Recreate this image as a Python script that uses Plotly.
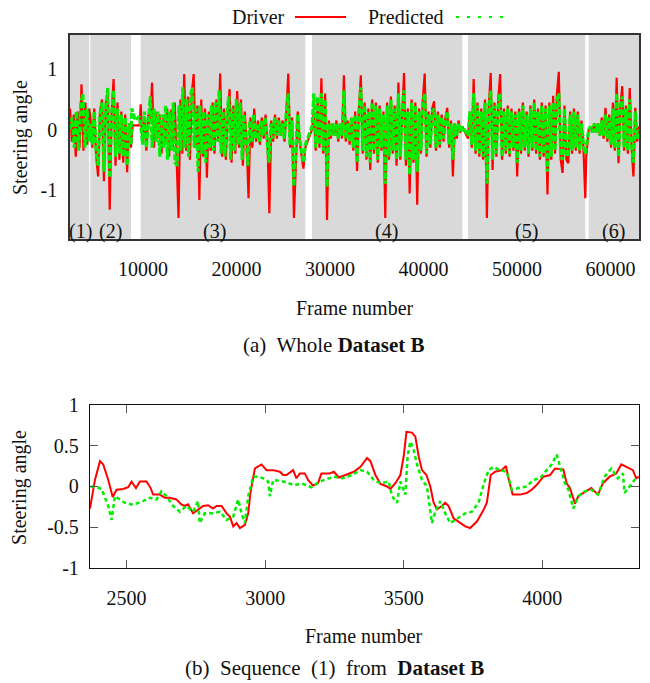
import numpy as np
import plotly.graph_objects as go

FONT = "Liberation Serif"
RED = "#ff0000"
GREEN = "#00ee00"

# ---------------- (a) Whole Dataset B ----------------
region_labels = ["(1)", "(2)", "(3)", "(4)", "(5)", "(6)"]
region_start = [2200, 4380, 9761, 28082, 44767, 57676]
region_end = [4250, 8724, 27366, 44157, 57312, 63060]
region_label_frame = [3270, 6500, 17700, 36100, 51050, 60350]

driver_r1 = [0.35, -0.2, 0.25, -0.45, 0.3, -0.3, 0.75, -0.35, 0.45, -0.25, 0.35]
pred_r1 = [0.0, 0.2, -0.3, 0.3, -0.35, 0.4, 0.6, -0.3, 0.35, -0.2]

driver_r2 = [0.2, -0.3, 0.35, -0.45, -0.78, 0.3, 0.5, -0.86, 0.45, 0.6, -1.33, 0.3,
             0.84, -0.6, 0.45, -0.5, 0.3, -0.55, 0.25, -0.71, 0.1, -0.3]
pred_r2 = [0.1, -0.25, 0.3, -0.4, -0.6, 0.25, 0.45, -0.7, 0.4, 0.69, -0.8, 0.25,
           0.65, -0.45, 0.35, -0.4, 0.25, -0.45, 0.2, -0.6, 0.1, -0.25]

driver_r3 = [0.42, -0.2, 0.2, -0.35, 0.25, 0.1, 0.78, -0.3, 0.3, -0.15, 0.25, -0.4,
             0.2, -0.25, 0.35, -0.45, 0.33, -0.3, 0.45, -0.5, -1.47, 0.5, -0.4, 0.92,
             -0.35, 0.55, -0.5, 0.6, 0.92, -0.3, 0.4, -1.17, 0.5, -0.45, 0.35, -0.8,
             0.3, -0.35, 0.45, -0.4, 0.5, -0.2, 0.93, -0.45, 0.35, -0.5, 0.3, 0.67,
             -0.55, 0.4, -0.4, 0.64, -0.3, 0.5, -0.6, 0.3, -0.2, -1.14, 0.2, -0.3,
             0.35, -0.2, 0.15, -0.25, 0.2, -0.15, 0.25, -0.2, -1.39, 0.15, -0.2, 0.25,
             -0.15, 0.2, -0.1, 0.15, -0.2, 0.3, 0.93, -0.3, 0.2, -1.47, -0.5, 0.3,
             -0.2, -0.4, -0.65, -0.3]
pred_r3 = [0.1, -0.25, 0.3, -0.3, 0.2, 0.55, -0.3, 0.35, -0.2, 0.3, -0.45, 0.25,
           -0.3, 0.4, -0.5, 0.3, -0.35, 0.45, -0.55, -0.6, 0.4, -0.35, 0.7, -0.3,
           0.5, -0.45, 0.55, 0.7, -0.3, 0.35, -0.7, 0.4, -0.4, 0.3, -0.55, 0.25,
           -0.3, 0.4, -0.35, 0.45, -0.2, 0.65, -0.4, 0.3, -0.45, 0.25, 0.55, -0.5,
           0.35, -0.35, 0.5, -0.25, 0.45, -0.5, 0.25, -0.2, -0.6, 0.15, -0.2, 0.25,
           -0.15, 0.1, -0.2, 0.15, -0.1, 0.2, -0.15, -0.55, 0.1, -0.15, 0.2, -0.1,
           0.15, -0.1, 0.1, -0.15, 0.25, 0.6, -0.25, 0.15, -0.94, -0.4, 0.25, -0.15,
           -0.35, -0.55, -0.25]

driver_r4 = [0.0, 0.3, -0.35, 0.45, -0.3, 0.85, -0.4, 0.6, -1.5, 0.15, -0.15, 0.1,
             -0.1, 0.15, -0.2, 0.1, -0.15, 0.9, -0.2, 0.15, -0.25, 0.2, -0.35, 0.3,
             -0.69, 0.35, 0.9, -0.4, 0.45, -0.5, 0.35, -0.67, 0.5, -0.4, 0.45, -0.55,
             0.4, -0.35, 0.3, -1.47, 0.45, -0.5, 0.55, -0.4, 0.4, -0.6, 0.78, -0.5,
             0.4, 0.94, -0.6, 0.35, -1.06, 0.5, -0.55, 0.45, -1.25, 0.35, -0.4, 0.5,
             0.93, -0.45, 0.3, -0.3, 0.35, 0.47, -0.35, 0.3, -0.3, 0.25, -0.2, 0.2,
             0.36, -0.3, 0.15, -0.78, 0.1, -0.15, 0.15, -0.05, 0.05]
pred_r4 = [0.05, 0.6, -0.3, 0.55, -0.25, 0.6, -0.35, 0.5, -0.95, 0.1, -0.1, 0.1,
           -0.1, 0.1, -0.15, 0.1, -0.1, 0.65, -0.15, 0.1, -0.2, 0.2, -0.3, 0.25,
           -0.55, 0.3, 0.7, -0.35, 0.4, -0.45, 0.3, -0.55, 0.45, -0.35, 0.4, -0.5,
           0.35, -0.3, 0.25, -0.9, 0.4, -0.45, 0.5, -0.35, 0.35, -0.5, 0.6, -0.45,
           0.35, 0.65, -0.5, 0.3, -0.75, 0.45, -0.5, 0.4, -0.7, 0.3, -0.35, 0.45,
           0.6, -0.4, 0.25, -0.25, 0.3, 0.35, -0.3, 0.25, -0.25, 0.2, -0.15, 0.15,
           0.3, -0.25, 0.1, -0.5, 0.1, -0.1, 0.1, -0.05, 0.05]

driver_r5 = [-0.15, 0.3, -0.3, 0.84, -0.4, 0.45, -0.45, 0.35, -0.5, 0.5, -1.47, 0.4,
             0.94, -0.67, 0.45, -0.45, 0.5, 0.92, -0.5, 0.35, -0.4, 0.4, -0.45, 0.35,
             -0.35, 0.3, -0.78, 0.35, -0.4, 0.45, -0.35, 0.3, -0.45, 0.4, -0.35, 0.5,
             -0.4, 0.35, -0.5, 0.45, -0.45, 0.4, -1.08, 0.45, -0.5, 0.56, -0.4, 0.6,
             0.96, -0.5, -0.72, 0.4, -0.5, -0.56, 0.3, -0.4, 0.35, -0.35, 0.3, -0.4,
             0.15, -0.3, -1.14]
pred_r5 = [-0.1, 0.3, -0.25, 0.6, -0.35, 0.4, -0.4, 0.3, -0.45, 0.45, -0.9, 0.35,
           0.65, -0.5, 0.4, -0.4, 0.45, 0.6, -0.45, 0.3, -0.35, 0.35, -0.4, 0.3,
           -0.3, 0.25, -0.55, 0.3, -0.35, 0.4, -0.3, 0.25, -0.4, 0.35, -0.3, 0.45,
           -0.35, 0.3, -0.45, 0.4, -0.4, 0.35, -0.7, 0.4, -0.45, 0.45, -0.35, 0.5,
           0.6, -0.45, -0.5, 0.35, -0.45, -0.4, 0.25, -0.35, 0.3, -0.3, 0.25, -0.35,
           0.1, -0.25, -0.4]

driver_r6 = [0.0, 0.05, -0.05, 0.1, -0.05, 0.1, -0.1, 0.2, -0.15, 0.36, -0.2, 0.25,
             -0.3, 0.45, -0.35, 0.86, -0.56, 0.4, 0.72, -0.35, 0.4, -0.4, 0.69, -0.3,
             -0.78, 0.36, -0.2, 0.05]
pred_r6 = [0.0, 0.05, -0.05, 0.1, -0.05, 0.1, -0.1, 0.15, -0.1, 0.25, -0.15, 0.2,
           -0.25, 0.35, -0.3, 0.6, -0.45, 0.35, 0.55, -0.3, 0.35, -0.35, 0.5, -0.25,
           -0.55, 0.3, -0.15, 0.0]

gap_driver_frames = [8900, 9650, 57420]
gap_driver_vals = [0.07, 0.07, -0.45]
gap_pred_frames = [8800, 9200, 9600]
gap_pred_vals = [0.35, 0.15, 0.22]

top_xticks = [10000, 20000, 30000, 40000, 50000, 60000]
top_yticks = [1, 0, -1]
top_yticktext = ["1", "0", "-1"]

# ---------------- (b) Sequence (1) ----------------
seq_driver_frames = [2368, 2386, 2404, 2416, 2434, 2450, 2464, 2488, 2506, 2518, 2534, 2548,
                     2572, 2587, 2596, 2620, 2638, 2656, 2680, 2698, 2710, 2722, 2740, 2758,
                     2776, 2794, 2812, 2825, 2843, 2861, 2873, 2885, 2897, 2909, 2927, 2939,
                     2947, 2963, 2987, 3005, 3029, 3053, 3065, 3077, 3101, 3113, 3125, 3143,
                     3155, 3173, 3191, 3203, 3233, 3248, 3266, 3290, 3320, 3344, 3368, 3380,
                     3398, 3416, 3440, 3452, 3470, 3488, 3500, 3510, 3530, 3542, 3554, 3566,
                     3582, 3596, 3608, 3620, 3638, 3650, 3662, 3680, 3704, 3722, 3740, 3764,
                     3788, 3800, 3814, 3830, 3854, 3869, 3878, 3893, 3920, 3944, 3962, 3980,
                     4004, 4028, 4046, 4076, 4088, 4100, 4118, 4130, 4153, 4177, 4201, 4219,
                     4243, 4267, 4285, 4303, 4327, 4339, 4348]
seq_driver = [-0.27, 0.08, 0.31, 0.27, 0.08, -0.13, -0.04, -0.03, -0.01, 0.06, -0.02, 0.06,
              0.06, -0.02, -0.10, -0.10, -0.14, -0.14, -0.16, -0.22, -0.24, -0.22, -0.33, -0.28,
              -0.24, -0.23, -0.27, -0.24, -0.24, -0.33, -0.37, -0.49, -0.45, -0.51, -0.47, -0.33,
              -0.08, 0.22, 0.27, 0.20, 0.20, 0.18, 0.14, 0.14, 0.20, 0.10, 0.16, 0.16,
              0.08, 0.01, 0.04, 0.16, 0.16, 0.18, 0.11, 0.14, 0.18, 0.24, 0.35, 0.31,
              0.14, 0.03, 0.0, -0.03, 0.04, 0.14, 0.37, 0.67, 0.66, 0.61, 0.37, 0.20,
              0.14, 0.0, -0.20, -0.28, -0.24, -0.20, -0.24, -0.39, -0.45, -0.49, -0.51, -0.43,
              -0.29, -0.20, 0.14, 0.18, 0.20, 0.25, 0.10, -0.10, -0.10, -0.08, -0.04, 0.02,
              0.12, 0.14, 0.22, 0.21, 0.04, -0.02, -0.21, -0.12, -0.07, -0.02, -0.10, 0.04,
              0.12, 0.16, 0.27, 0.24, 0.20, 0.10, 0.12]

seq_pred_frames = [2370, 2392, 2410, 2422, 2434, 2446, 2458, 2476, 2494, 2518, 2536, 2560,
                   2584, 2608, 2626, 2644, 2668, 2692, 2716, 2740, 2758, 2764, 2782, 2812,
                   2837, 2861, 2885, 2903, 2915, 2927, 2939, 2957, 2975, 2993, 3011, 3017,
                   3029, 3065, 3101, 3137, 3167, 3197, 3233, 3248, 3278, 3314, 3344, 3368,
                   3392, 3416, 3446, 3458, 3476, 3488, 3506, 3514, 3524, 3536, 3548, 3566,
                   3584, 3602, 3614, 3632, 3650, 3668, 3686, 3704, 3722, 3746, 3770, 3788,
                   3806, 3824, 3848, 3872, 3890, 3914, 3944, 3968, 3992, 4016, 4034, 4052,
                   4070, 4082, 4094, 4112, 4130, 4153, 4177, 4201, 4225, 4249, 4273, 4291,
                   4297, 4315, 4333, 4348]
seq_pred = [0.0, -0.01, -0.03, -0.14, -0.24, -0.41, -0.12, -0.16, -0.20, -0.22, -0.21, -0.18,
            -0.14, -0.16, -0.06, -0.12, -0.24, -0.31, -0.24, -0.31, -0.18, -0.45, -0.33, -0.33,
            -0.31, -0.41, -0.37, -0.16, -0.33, -0.45, -0.12, 0.12, 0.12, 0.10, 0.06, -0.12,
            0.08, 0.06, 0.02, 0.03, -0.01, 0.06, 0.10, 0.12, 0.10, 0.14, 0.20, 0.18,
            0.08, 0.04, 0.06, -0.12, -0.20, 0.06, -0.10, 0.37, 0.55, 0.45, 0.27, 0.08,
            0.0, -0.45, -0.31, -0.18, -0.33, -0.45, -0.41, -0.37, -0.33, -0.31, -0.20, 0.02,
            0.20, 0.24, 0.20, 0.18, -0.04, -0.02, 0.0, 0.08, 0.10, 0.20, 0.27, 0.39,
            0.16, 0.04, -0.04, -0.27, -0.12, -0.06, -0.04, -0.10, 0.12, 0.22, 0.10, 0.16,
            -0.08, 0.0, 0.08, 0.10]

seq_xticks = [2500, 3000, 3500, 4000]
seq_yticks = [1, 0.5, 0, -0.5, -1]
seq_yticktext = ["1", "0.5", "0", "-0.5", "-1"]


def assemble(region_vals, gap_frames, gap_vals):
    xs, ys = [], []
    for s, e, v in zip(region_start, region_end, region_vals):
        xs.extend(np.linspace(s, e, len(v)).tolist())
        ys.extend(v)
    xs.extend(gap_frames)
    ys.extend(gap_vals)
    order = np.argsort(xs, kind="stable")
    return np.array(xs)[order], np.array(ys)[order]


def fnt(size=20):
    return dict(family=FONT, size=size, color="#111111")


drv_x, drv_y = assemble([driver_r1, driver_r2, driver_r3, driver_r4, driver_r5, driver_r6],
                        gap_driver_frames, gap_driver_vals)
prd_x, prd_y = assemble([pred_r1, pred_r2, pred_r3, pred_r4, pred_r5, pred_r6],
                        gap_pred_frames, gap_pred_vals)

fig = go.Figure()
fig.add_trace(go.Scatter(x=drv_x, y=drv_y, mode="lines", xaxis="x", yaxis="y",
                         line=dict(color=RED, width=2.2), showlegend=False))
fig.add_trace(go.Scatter(x=prd_x, y=prd_y, mode="lines", xaxis="x", yaxis="y",
                         line=dict(color=GREEN, width=3.2, dash="6px,2px"), showlegend=False))
fig.add_trace(go.Scatter(x=seq_driver_frames, y=seq_driver, mode="lines", xaxis="x2", yaxis="y2",
                         line=dict(color=RED, width=2), showlegend=False))
fig.add_trace(go.Scatter(x=seq_pred_frames, y=seq_pred, mode="lines", xaxis="x2", yaxis="y2",
                         line=dict(color=GREEN, width=2.5, dash="4px,3px"), showlegend=False))

shapes = []
for s, e in zip(region_start, region_end):
    shapes.append(dict(type="rect", xref="x", yref="y domain", x0=s, x1=e, y0=0, y1=1,
                       fillcolor="#d9d9d9", line=dict(width=0), layer="below"))
# legend samples
shapes.append(dict(type="line", xref="paper", yref="paper", x0=0.3954, x1=0.4851,
                   y0=1.0338, y1=1.0338, line=dict(color=RED, width=2)))
shapes.append(dict(type="line", xref="paper", yref="paper", x0=0.6784, x1=0.7663,
                   y0=1.0338, y1=1.0338, line=dict(color=GREEN, width=2, dash="3px,8px")))

annotations = []
for lab, fx in zip(region_labels, region_label_frame):
    annotations.append(dict(text=lab, x=fx, y=-1.69, xref="x", yref="y", showarrow=False,
                            font=fnt(), xanchor="center", yanchor="middle"))
annotations += [
    dict(text="Driver", x=0.3814, y=1.0338, xref="paper", yref="paper", showarrow=False,
         font=fnt(), xanchor="right", yanchor="middle"),
    dict(text="Predicted", x=0.6608, y=1.0338, xref="paper", yref="paper", showarrow=False,
         font=fnt(), xanchor="right", yanchor="middle"),
    dict(text="Steering angle", x=-0.0879, y=0.8086, xref="paper", yref="paper", showarrow=False,
         font=fnt(), textangle=-90, xanchor="center", yanchor="middle"),
    dict(text="Steering angle", x=-0.0879, y=0.152, xref="paper", yref="paper", showarrow=False,
         font=fnt(), textangle=-90, xanchor="center", yanchor="middle"),
    dict(text="Frame number", x=0.5, y=0.4878, xref="paper", yref="paper", showarrow=False,
         font=fnt(), xanchor="center", yanchor="middle"),
    dict(text="Frame number", x=0.517, y=-0.1276, xref="paper", yref="paper", showarrow=False,
         font=fnt(), xanchor="center", yanchor="middle"),
    dict(text="(a)  Whole <b>Dataset B</b>", x=0.464, y=0.418, xref="paper", yref="paper",
         showarrow=False, font=fnt(21), xanchor="center", yanchor="middle"),
    dict(text="(b)  Sequence  (1)  from  <b>Dataset B</b>", x=0.464, y=-0.1876, xref="paper",
         yref="paper", showarrow=False, font=fnt(21), xanchor="center", yanchor="middle"),
]

fig.update_layout(
    width=650, height=683,
    margin=dict(l=62, r=19, t=27, b=123),
    paper_bgcolor="white", plot_bgcolor="white",
    font=fnt(),
    shapes=shapes, annotations=annotations,
    xaxis=dict(domain=[0, 1], anchor="y", range=[2200, 63056], showgrid=False, zeroline=False,
               showline=True, linecolor="#333", linewidth=1.5, mirror=True,
               tickvals=top_xticks, ticktext=[str(t) for t in top_xticks],
               ticks="outside", ticklen=11, tickcolor="rgba(0,0,0,0)", tickfont=fnt()),
    yaxis=dict(domain=[0.617, 1.0], anchor="x", range=[-1.82, 1.57], showgrid=False,
               zeroline=False, showline=True, linecolor="#333", linewidth=1.5, mirror=True,
               tickvals=top_yticks, ticktext=top_yticktext,
               ticks="outside", ticklen=7, tickcolor="rgba(0,0,0,0)", tickfont=fnt()),
    xaxis2=dict(domain=[0.0351, 1.0], anchor="y2", range=[2368, 4349], showgrid=False,
                zeroline=False, showline=True, linecolor="#111", linewidth=1.3, mirror="ticks",
                tickvals=seq_xticks, ticktext=[str(t) for t in seq_xticks],
                ticks="inside", ticklen=8, tickcolor="#555", tickwidth=1.3,
                ticklabelstandoff=12, tickfont=fnt()),
    yaxis2=dict(domain=[0.0, 0.306], anchor="x2", range=[-1, 1], showgrid=False,
                zeroline=False, showline=True, linecolor="#111", linewidth=1.3, mirror="ticks",
                tickvals=seq_yticks, ticktext=seq_yticktext,
                ticks="inside", ticklen=8, tickcolor="#555", tickwidth=1.3,
                ticklabelstandoff=6, tickfont=fnt()),
)

fig.write_html("out.html")
